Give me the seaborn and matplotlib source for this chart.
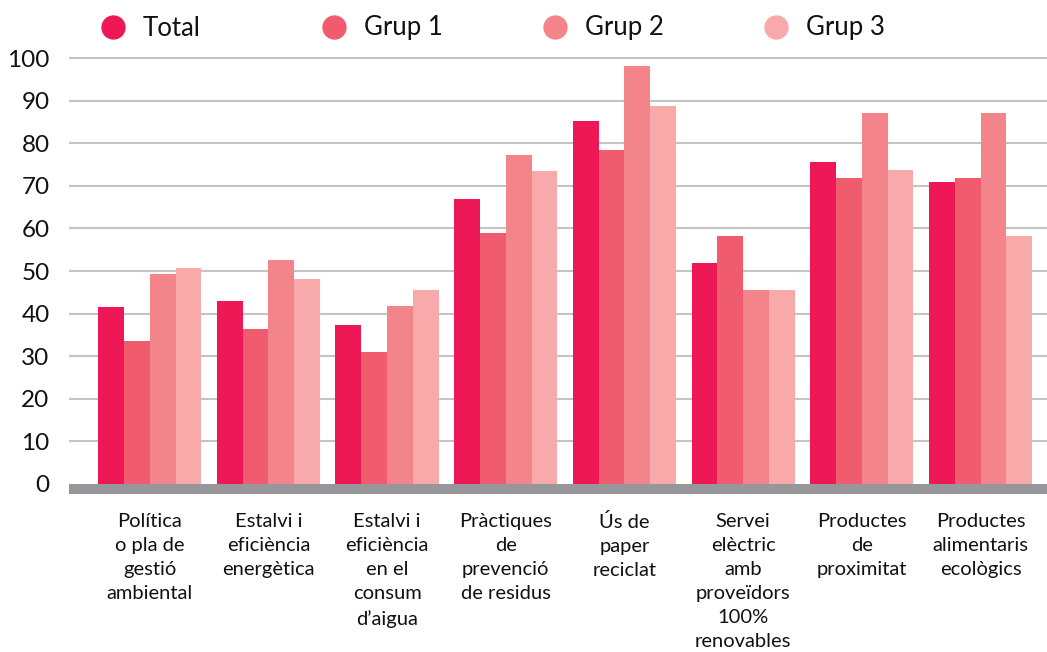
import matplotlib
matplotlib.use("Agg")
import matplotlib.pyplot as plt
from matplotlib.lines import Line2D
import pandas as pd
import seaborn as sns

categories = [
    "Política\no pla de\ngestió\nambiental",
    "Estalvi i\neficiència\nenergètica",
    "Estalvi i\neficiència\nen el\nconsum\nd’aigua",
    "Pràctiques\nde\nprevenció\nde residus",
    "Ús de\npaper\nreciclat",
    "Servei\nelèctric\namb\nproveïdors\n100%\nrenovables",
    "Productes\nde\nproximitat",
    "Productes\nalimentaris\necològics",
]
series_names = ["Total", "Grup 1", "Grup 2", "Grup 3"]
total = [41.5, 43.0, 37.3, 66.9, 85.2, 51.9, 75.6, 70.9]
grup1 = [33.6, 36.4, 31.0, 58.9, 78.4, 58.2, 71.8, 71.8]
grup2 = [49.3, 52.6, 41.8, 77.2, 98.1, 45.5, 87.1, 87.1]
grup3 = [50.7, 48.1, 45.5, 73.5, 88.7, 45.5, 73.7, 58.2]
yticks = [0, 10, 20, 30, 40, 50, 60, 70, 80, 90, 100]

colors = ["#ee1857", "#f05c6e", "#f3848a", "#f8a9aa"]

sns.set_theme(style="white")
plt.rcParams["font.family"] = ["Lato", "DejaVu Sans"]

df = pd.DataFrame({
    "categoria": categories * 4,
    "serie": [s for s in series_names for _ in categories],
    "valor": total + grup1 + grup2 + grup3,
})

fig = plt.figure(figsize=(10.47, 6.52), dpi=100)
ax = fig.add_axes([69 / 1047, (652 - 494) / 652, 1 - 69 / 1047, (494 - 57) / 652])

for y in yticks[1:]:
    ax.axhline(y, color="#c4c4c4", lw=1.5, zorder=0)
ax.axhspan(-2.35, 0, color="#97969b", lw=0, zorder=1)

sns.barplot(
    data=df, x="categoria", y="valor", hue="serie", hue_order=series_names,
    palette=colors, saturation=1, width=0.87, ax=ax, legend=False, zorder=2,
    linewidth=0, edgecolor="none",
)

ax.set_xlim(-0.68, 7.56)
ax.set_ylim(-2.35, 100.25)
ax.set_yticks(yticks)
ax.set_yticklabels([str(v) for v in yticks], fontsize=17.5, color="#111111")
ax.tick_params(axis="y", length=0, pad=14)
ax.set_xticks(range(len(categories)))
ax.set_xticklabels(categories, fontsize=14.5, linespacing=1.5, color="#111111")
ax.tick_params(axis="x", length=0, pad=14)
ax.set_xlabel("")
ax.set_ylabel("")
for s in ax.spines.values():
    s.set_visible(False)

# legend drawn by hand, evenly spaced like the reference
marker_x = [113, 334, 555, 776]
for name, c, mx in zip(series_names, colors, marker_x):
    fig.add_artist(Line2D([mx / 1047], [1 - 27 / 652], marker="o", markersize=16.5,
                          color=c, lw=0, transform=fig.transFigure))
    fig.text((mx + 30) / 1047, 1 - 28 / 652, name, fontsize=18.5,
             va="center", ha="left", color="#111111")

fig.savefig("out.png", dpi=100)
